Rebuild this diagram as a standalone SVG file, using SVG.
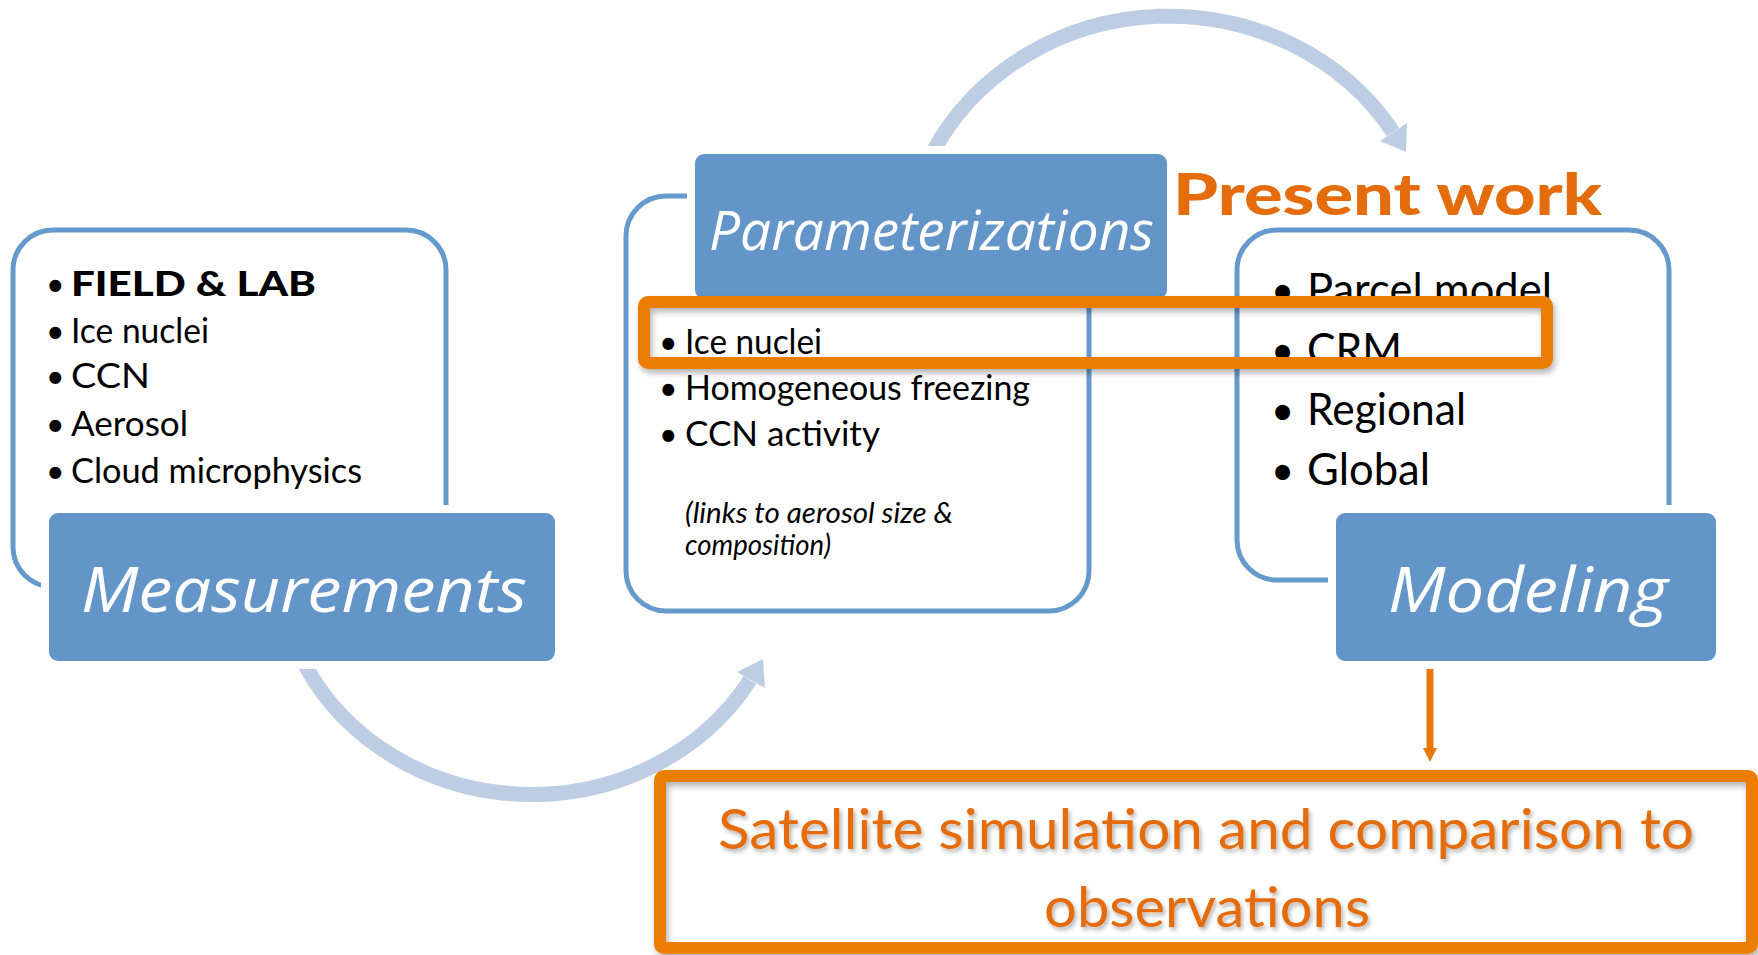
<svg xmlns="http://www.w3.org/2000/svg" width="1758" height="955" viewBox="0 0 1758 955">
<defs>
<style>
.outline{fill:none;stroke:#6699CC;stroke-width:5}
.box{fill:#6395C9;stroke:#fff;stroke-width:8}
.title{font-family:"Open Sans","Liberation Sans",sans-serif;font-style:italic;fill:#fff}
.b{font-family:Lato,"Liberation Sans",sans-serif;fill:#000}
.arc{fill:none;stroke:#BDCDE3;stroke-width:15}
.arch{fill:#BDCDE3}
.hl{fill:none;stroke:#EB7D05;stroke-width:12}
.org{font-family:Lato,"Liberation Sans",sans-serif;fill:#E46C0A}
</style>
<filter id="sh" x="-5%" y="-30%" width="110%" height="160%"><feDropShadow dx="2" dy="4" stdDeviation="3" flood-color="#000" flood-opacity="0.3"/></filter>
<filter id="tsh" x="-5%" y="-30%" width="110%" height="160%"><feDropShadow dx="2" dy="3" stdDeviation="2" flood-color="#000" flood-opacity="0.3"/></filter>
<marker id="oa" markerUnits="userSpaceOnUse" markerWidth="24" markerHeight="14" refX="2" refY="7" orient="auto"><path d="M0,0 L14,7 L0,14 Z" fill="#E8790A"/></marker>
</defs>

<g id="connectors">
<path class="arc" d="M 934 150 A 264 246 0 0 1 1393 132"/>
<polygon class="arch" points="1380,141 1407,123 1406,152"/>
<path class="arc" d="M 305 665 A 254 235 0 0 0 750 680"/>
<polygon class="arch" points="737,672 765,688 763,659"/>
<line x1="1430" y1="664" x2="1430" y2="750" stroke="#E8790A" stroke-width="7" marker-end="url(#oa)"/>
</g>

<g id="measurements">
<rect class="outline" x="13" y="230" width="433" height="357" rx="40"/>
<text class="b" x="46" y="296" font-size="32">•</text>
<text class="b" x="71" y="296" font-size="34" font-weight="900" textLength="245" lengthAdjust="spacingAndGlyphs">FIELD &amp; LAB</text>
<text class="b" x="46" y="343" font-size="32">•</text>
<text class="b" x="71" y="343" font-size="34" textLength="138" lengthAdjust="spacingAndGlyphs">Ice nuclei</text>
<text class="b" x="46" y="388" font-size="32">•</text>
<text class="b" x="71" y="388" font-size="34" textLength="79" lengthAdjust="spacingAndGlyphs">CCN</text>
<text class="b" x="46" y="436" font-size="32">•</text>
<text class="b" x="71" y="436" font-size="34" textLength="117" lengthAdjust="spacingAndGlyphs">Aerosol</text>
<text class="b" x="46" y="483" font-size="32">•</text>
<text class="b" x="71" y="483" font-size="34" textLength="291" lengthAdjust="spacingAndGlyphs">Cloud microphysics</text>
<rect class="box" x="45" y="509" width="514" height="156" rx="13"/>
<text class="title" x="81" y="612" font-size="62" textLength="446" lengthAdjust="spacingAndGlyphs">Measurements</text>
</g>

<g id="parameterizations">
<rect class="outline" x="626" y="196" width="463" height="415" rx="40"/>
<text class="b" x="659" y="354" font-size="32">•</text>
<text class="b" x="685" y="354" font-size="34" textLength="137" lengthAdjust="spacingAndGlyphs">Ice nuclei</text>
<text class="b" x="659" y="400" font-size="32">•</text>
<text class="b" x="685" y="400" font-size="34" textLength="345" lengthAdjust="spacingAndGlyphs">Homogeneous freezing</text>
<text class="b" x="659" y="446" font-size="32">•</text>
<text class="b" x="685" y="446" font-size="34" textLength="195" lengthAdjust="spacingAndGlyphs">CCN activity</text>
<text class="b" x="685" y="523" font-size="28" font-style="italic" textLength="268" lengthAdjust="spacingAndGlyphs">(links to aerosol size &amp;</text>
<text class="b" x="685" y="555" font-size="28" font-style="italic" textLength="146" lengthAdjust="spacingAndGlyphs">composition)</text>
<rect class="box" x="691" y="150" width="480" height="153" rx="13"/>
<text class="title" x="709" y="250" font-size="54" textLength="445" lengthAdjust="spacingAndGlyphs">Parameterizations</text>
</g>

<g id="present-work">
<text class="org" x="1173" y="215" font-size="58" font-weight="900" textLength="429" lengthAdjust="spacingAndGlyphs">Present work</text>
</g>

<g id="modeling">
<rect class="outline" x="1237" y="230" width="432" height="350" rx="40"/>
<text class="b" x="1271" y="305" font-size="40">•</text>
<text class="b" x="1307" y="305" font-size="44" textLength="245" lengthAdjust="spacingAndGlyphs">Parcel model</text>
<text class="b" x="1271" y="365" font-size="40">•</text>
<text class="b" x="1307" y="365" font-size="44" textLength="95" lengthAdjust="spacingAndGlyphs">CRM</text>
<text class="b" x="1271" y="425" font-size="40">•</text>
<text class="b" x="1307" y="425" font-size="44" textLength="159" lengthAdjust="spacingAndGlyphs">Regional</text>
<text class="b" x="1271" y="485" font-size="40">•</text>
<text class="b" x="1307" y="485" font-size="44" textLength="123" lengthAdjust="spacingAndGlyphs">Global</text>
<rect class="box" x="1332" y="509" width="388" height="156" rx="13"/>
<text class="title" x="1388" y="612" font-size="62" textLength="280" lengthAdjust="spacingAndGlyphs">Modeling</text>
</g>

<g id="highlight">
<rect class="hl" x="644" y="302" width="903" height="61" rx="4" filter="url(#sh)"/>
</g>

<g id="satellite">
<rect class="hl" x="660" y="776" width="1092" height="172" rx="4" filter="url(#sh)"/>
<g filter="url(#tsh)">
<text class="org" x="718" y="849" font-size="56" textLength="976" lengthAdjust="spacingAndGlyphs">Satellite simulation and comparison to</text>
<text class="org" x="1044" y="927" font-size="56" textLength="326" lengthAdjust="spacingAndGlyphs">observations</text>
</g>
</g>
</svg>
